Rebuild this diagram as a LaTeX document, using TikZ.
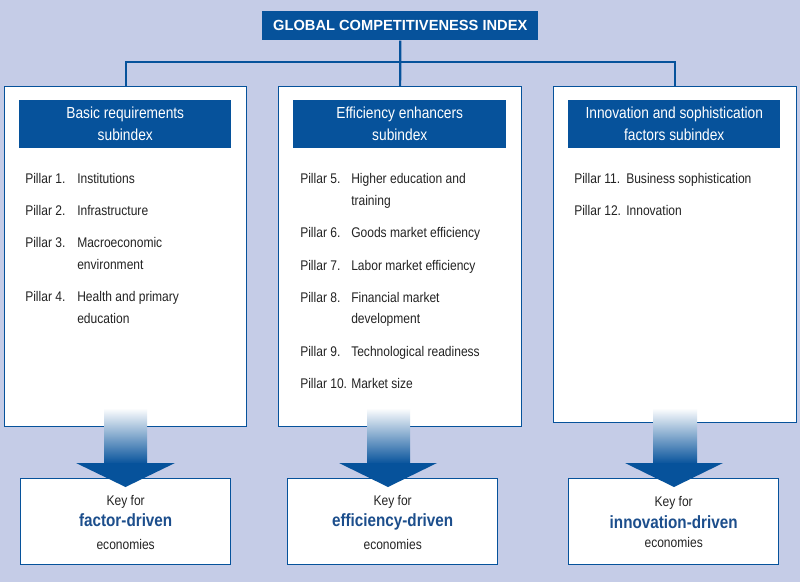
\documentclass[tikz,border=0pt]{standalone}
\usepackage{fontspec}
\setmainfont{Liberation Sans}[FakeStretch=0.86]
\newfontfamily\widefont{Liberation Sans}
\definecolor{bg}{RGB}{197,204,231}
\definecolor{dblue}{RGB}{6,82,155}
\definecolor{kblue}{RGB}{28,78,140}
\definecolor{txt}{RGB}{35,35,35}
\begin{document}
\begin{tikzpicture}[x=0.75pt,y=-0.75pt,
  box/.style={draw=dblue,line width=1pt,fill=white,anchor=north west,inner sep=0pt},
  hdr/.style={fill=dblue,text=white,anchor=north west,inner sep=0pt,align=center,
    font=\fontsize{12}{16.5}\selectfont},
  conn/.style={draw=dblue,line width=1.6pt},
  pill/.style={anchor=base west,inner sep=0pt,text=txt,font=\fontsize{10.5}{12}\selectfont},
  keyline/.style={anchor=base,inner sep=0pt,text=txt,font=\fontsize{10.5}{12}\selectfont},
  keybold/.style={anchor=base,inner sep=0pt,text=kblue,font=\fontsize{13.3}{15}\selectfont\bfseries},
  shaft/.style={top color=white,bottom color=dblue,draw=none},
  head/.style={fill=dblue,draw=none}]
\fill[bg] (0,0) rectangle (800,582);
\useasboundingbox (0,0) rectangle (800,582);

% title
\node[hdr,minimum width=276*0.75pt,minimum height=29*0.75pt,font=\widefont\fontsize{11}{13}\selectfont\bfseries] (title) at (262,11) {GLOBAL COMPETITIVENESS INDEX};

% subindex boxes
\node[box,minimum width=242*0.75pt,minimum height=340*0.75pt] (left) at (4,86) {};
\node[box,minimum width=243*0.75pt,minimum height=340*0.75pt] (mid) at (278,86) {};
\node[box,minimum width=243*0.75pt,minimum height=336*0.75pt] (right) at (553,86) {};

% connectors
\coordinate (j) at (400,62);
\draw[conn] (title.south) -- (mid.north);
\draw[conn] (left.north) |- (j) -| (right.north);

% headers
\node[hdr,minimum width=212*0.75pt,minimum height=48*0.75pt] (h1) at (19,100) {Basic requirements\\subindex};
\node[hdr,minimum width=213*0.75pt,minimum height=48*0.75pt] (h2) at (293,100) {Efficiency enhancers\\subindex};
\node[hdr,minimum width=212*0.75pt,minimum height=48*0.75pt] (h3) at (568,100) {Innovation and sophistication\\factors subindex};

% pillars left
\node[pill] (p1) at (25,183) {Pillar 1.};  \node[pill] (p1t) at (77,183) {Institutions};
\node[pill] (p2) at (25,215) {Pillar 2.};  \node[pill] (p2t) at (77,215) {Infrastructure};
\node[pill] (p3) at (25,247) {Pillar 3.};  \node[pill] (p3t) at (77,247) {Macroeconomic};
\node[pill] (p3u) at (77,269) {environment};
\node[pill] (p4) at (25,301) {Pillar 4.};  \node[pill] (p4t) at (77,301) {Health and primary};
\node[pill] (p4u) at (77,323) {education};

% pillars middle
\node[pill] (p5) at (300,183) {Pillar 5.};  \node[pill] (p5t) at (351,183) {Higher education and};
\node[pill] (p5u) at (351,205) {training};
\node[pill] (p6) at (300,237) {Pillar 6.};  \node[pill] (p6t) at (351,237) {Goods market efficiency};
\node[pill] (p7) at (300,270) {Pillar 7.};  \node[pill] (p7t) at (351,270) {Labor market efficiency};
\node[pill] (p8) at (300,302) {Pillar 8.};  \node[pill] (p8t) at (351,302) {Financial market};
\node[pill] (p8u) at (351,323) {development};
\node[pill] (p9) at (300,356) {Pillar 9.};  \node[pill] (p9t) at (351,356) {Technological readiness};
\node[pill] (p10) at (300,388) {Pillar 10.}; \node[pill] (p10t) at (351,388) {Market size};

% pillars right
\node[pill] (p11) at (574,183) {Pillar 11.}; \node[pill] (p11t) at (626,183) {Business sophistication};
\node[pill] (p12) at (574,215) {Pillar 12.}; \node[pill] (p12t) at (626,215) {Innovation};

% key boxes
\node[box,minimum width=210*0.75pt,minimum height=86*0.75pt] (k1) at (20,478) {};
\node[box,minimum width=210*0.75pt,minimum height=86*0.75pt] (k2) at (287,478) {};
\node[box,minimum width=210*0.75pt,minimum height=86*0.75pt] (k3) at (568,478) {};

% arrows
\shade[shaft] (104,408) rectangle (147,464);
\fill[head] (76,463) -- (175,463) -- (125.5,487) -- cycle;
\shade[shaft] (367,408) rectangle (410,464);
\fill[head] (339,463) -- (437,463) -- (388,487) -- cycle;
\shade[shaft] (653,408) rectangle (697,464);
\fill[head] (625,463) -- (723,463) -- (674,487) -- cycle;

% key texts
\node[keyline] (k1a) at (k1.north |- 0,505) {Key for};
\node[keybold] (k1b) at (k1.north |- 0,526) {factor-driven};
\node[keyline] (k1c) at (k1.north |- 0,549) {economies};
\node[keyline] (k2a) at (k2.north |- 0,505) {Key for};
\node[keybold] (k2b) at (k2.north |- 0,526) {efficiency-driven};
\node[keyline] (k2c) at (k2.north |- 0,549) {economies};
\node[keyline] (k3a) at (k3.north |- 0,506) {Key for};
\node[keybold] (k3b) at (k3.north |- 0,528) {innovation-driven};
\node[keyline] (k3c) at (k3.north |- 0,547) {economies};
\end{tikzpicture}
\end{document}
